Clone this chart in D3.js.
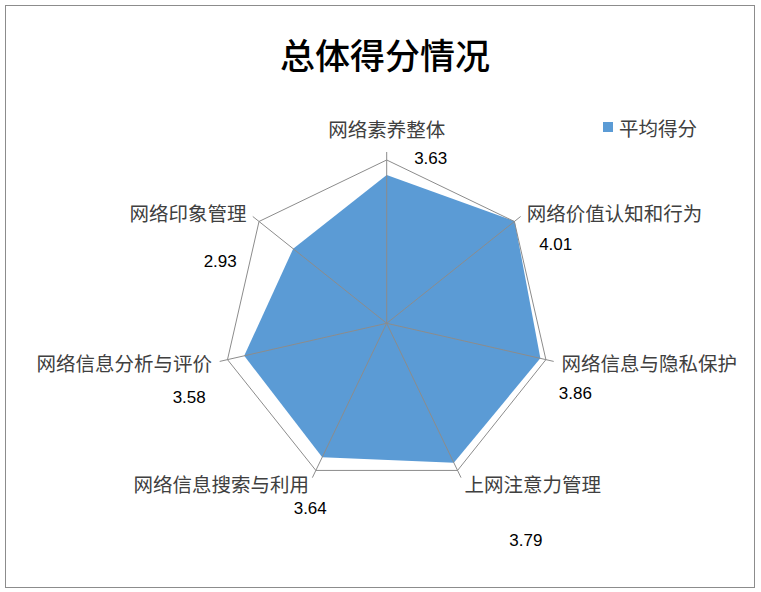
<!DOCTYPE html>
<meta charset="utf-8">
<head>
    <title>总体得分情况</title>
    <script src="https://cdn.jsdelivr.net/npm/d3@7/dist/d3.min.js"></script>
</head>

<style>
    body { margin: 0; background: #fff; }
    text { font-family: "Noto Sans CJK SC", sans-serif; }
    .cat { font-size: 19.5px; fill: #404040; }
    .val { font-family: "Liberation Sans", Arial, sans-serif; font-size: 17px; fill: #000; }
    .grid { stroke: #8c8c8c; fill: none; stroke-width: 1px; }
</style>

<svg></svg>

<script>
    var vWidth = 761;
    var vHeight = 592;

    // data
    var categories = ["网络素养整体", "网络价值认知和行为", "网络信息与隐私保护", "上网注意力管理",
        "网络信息搜索与利用", "网络信息分析与评价", "网络印象管理"];
    var scores = [3.63, 4.01, 3.86, 3.79, 3.64, 3.58, 2.93];
    var seriesName = "平均得分";
    var axisMax = 4;

    // value labels were dragged around in the original, nudge them (px from the point)
    var valueNudge = [[44, -17], [41, 23], [35, 35], [72, 78], [-12, 51], [-55, 42], [-73, 13]];

    var cx = 386.7, cy = 323.3, R = 163.3;

    var svg = d3.select('svg').attr('width', vWidth).attr('height', vHeight);

    svg.append('rect').attr('x', 5.5).attr('y', 5.5)
        .attr('width', 749).attr('height', 582)
        .attr('fill', '#fff').attr('stroke', '#8c8c8c');

    svg.append('text').attr('x', 385).attr('y', 53)
        .attr('text-anchor', 'middle').attr('dominant-baseline', 'central')
        .style('font-size', '35px').style('font-weight', 500).attr('fill', '#000')
        .text("总体得分情况");

    var angle = d3.scalePoint().domain(d3.range(categories.length))
        .range([0, 2 * Math.PI * (categories.length - 1) / categories.length]);
    var r = d3.scaleLinear().domain([0, axisMax]).range([0, R]);

    var g = svg.append('g').attr('transform', 'translate(' + cx + ',' + cy + ')');

    function pt(i, v) {
        var a = angle(i);
        return [Math.sin(a) * r(v), -Math.cos(a) * r(v)];
    }

    var radial = d3.lineRadial().curve(d3.curveLinearClosed)
        .angle(function (d, i) { return angle(i); })
        .radius(function (d) { return r(d); });

    // series
    g.append('path').datum(scores)
        .attr('d', radial)
        .attr('fill', '#5b9bd5');

    // outer ring + spokes (with small tick extension)
    g.append('path').datum(categories.map(function () { return axisMax; }))
        .attr('class', 'grid').attr('d', radial);

    var tickExt = axisMax * 8 / R;
    g.selectAll('line.spoke').data(categories).enter().append('line')
        .attr('class', 'grid')
        .attr('x1', 0).attr('y1', 0)
        .attr('x2', function (d, i) { return pt(i, axisMax + tickExt)[0]; })
        .attr('y2', function (d, i) { return pt(i, axisMax + tickExt)[1]; });

    // category labels
    g.selectAll('text.cat').data(categories).enter().append('text')
        .attr('class', 'cat')
        .each(function (d, i) {
            var a = angle(i), ux = Math.sin(a), uy = -Math.cos(a);
            var p = pt(i, axisMax);
            var t = d3.select(this).text(d).attr('dominant-baseline', 'central');
            if (Math.abs(ux) < 0.1) {
                t.attr('text-anchor', 'middle').attr('x', p[0]).attr('y', p[1] - 32);
            } else {
                t.attr('text-anchor', ux > 0 ? 'start' : 'end')
                    .attr('x', p[0] + ux * 16).attr('y', p[1] + uy * 14);
            }
        });

    // value labels
    g.selectAll('text.val').data(scores).enter().append('text')
        .attr('class', 'val')
        .attr('text-anchor', 'middle').attr('dominant-baseline', 'central')
        .attr('x', function (d, i) { return pt(i, d)[0] + valueNudge[i][0]; })
        .attr('y', function (d, i) { return pt(i, d)[1] + valueNudge[i][1]; })
        .text(function (d) { return d3.format('.2f')(d); });

    // legend
    var lg = svg.append('g').attr('transform', 'translate(603,122)');
    lg.append('rect').attr('width', 10).attr('height', 10).attr('fill', '#5b9bd5');
    lg.append('text').attr('class', 'cat').attr('x', 16).attr('y', 5)
        .attr('dominant-baseline', 'central').text(seriesName);
</script>
